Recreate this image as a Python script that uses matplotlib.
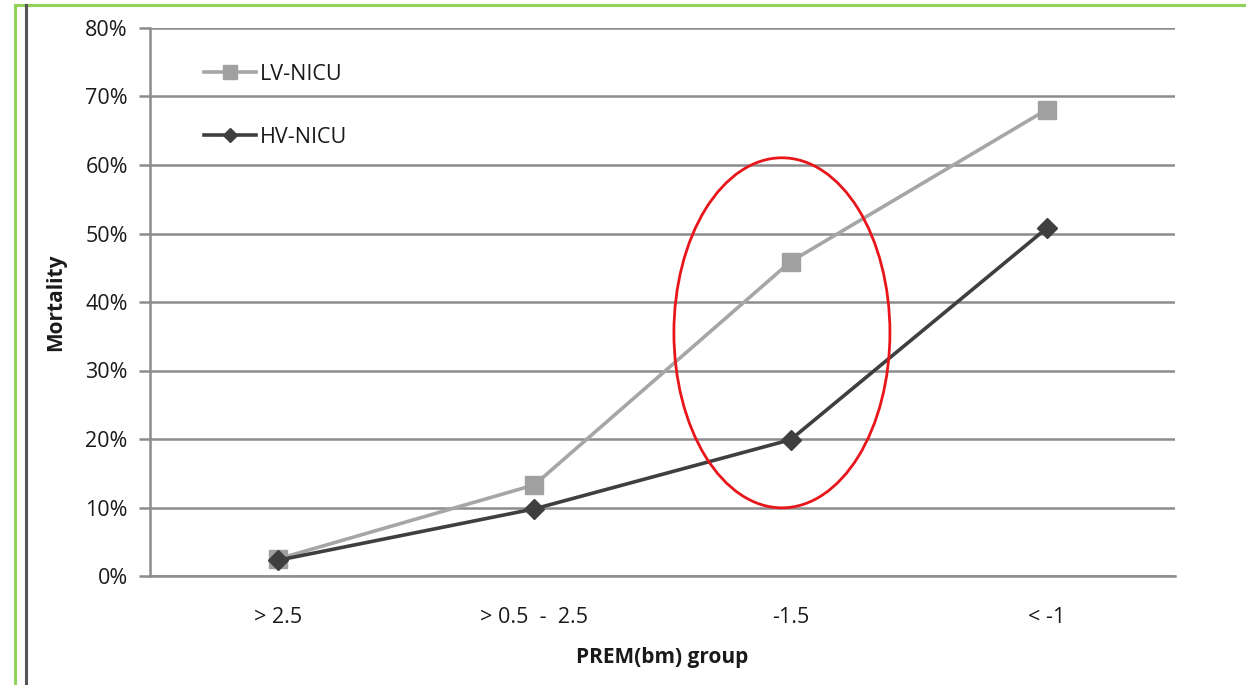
import matplotlib
matplotlib.use("Agg")
import matplotlib.pyplot as plt
from matplotlib.patches import Ellipse
from matplotlib.lines import Line2D

categories = ["> 2.5", "> 0.5  -  2.5", "-1.5", "< -1"]
lv_nicu = [2.5, 13.3, 45.9, 68.1]
hv_nicu = [2.3, 9.8, 19.9, 50.8]
yticks = [0, 10, 20, 30, 40, 50, 60, 70, 80]

plt.rcParams['font.family'] = ['Open Sans', 'DejaVu Sans']

W, H = 1246, 685
fig = plt.figure(figsize=(W / 100, H / 100), dpi=100)
ax = fig.add_axes([150 / W, 1 - 576 / H, 1025 / W, (576 - 28) / H])

x = list(range(len(categories)))
ax.plot(x, lv_nicu, color="#a6a6a6", lw=2.6, marker="s", ms=13,
        mfc="#a0a0a0", mec="#a0a0a0", label="LV-NICU", zorder=3)
ax.plot(x, hv_nicu, color="#3f3f3f", lw=2.6, marker="D", ms=10,
        mfc="#3f3f3f", mec="#3f3f3f", label="HV-NICU", zorder=4)

ax.set_xlim(-0.5, 3.5)
ax.set_ylim(0, 80)
ax.set_yticks(yticks)
ax.set_yticklabels([f"{v}%" for v in yticks])
ax.set_xticks(x)
ax.set_xticklabels(categories)
ax.grid(axis="y", color="#8c8c8c", lw=1.8)
ax.set_axisbelow(True)
for s in ["top", "right"]:
    ax.spines[s].set_visible(False)
for s in ["left", "bottom"]:
    ax.spines[s].set_color("#8c8c8c")
    ax.spines[s].set_linewidth(1.8)
ax.tick_params(axis="y", length=8, width=1.8, color="#8c8c8c",
               labelsize=15.5, labelcolor="#1a1a1a", pad=8)
ax.tick_params(axis="x", length=0, labelsize=15.5, labelcolor="#1a1a1a", pad=22)
ax.set_ylabel("Mortality", fontsize=15, fontweight="bold", color="#1a1a1a", labelpad=14)
ax.set_xlabel("PREM(bm) group", fontsize=15, fontweight="bold", color="#1a1a1a", labelpad=14)

leg = ax.legend(loc="upper left", bbox_to_anchor=(0.034, 0.97), frameon=False,
                fontsize=15.5, labelspacing=1.95, handlelength=2.4, handletextpad=0.2,
                markerscale=0.75, labelcolor="#1a1a1a")

ell = Ellipse((1.966, 35.5), 0.843, 51.1, fill=False, edgecolor="#e8161b", lw=2.0, zorder=5)
ax.add_patch(ell)

# frame lines of the page
fig.add_artist(Line2D([15 / W, 1], [1 - 5 / H, 1 - 5 / H], color="#8fd35a", lw=2.2))
fig.add_artist(Line2D([15 / W, 15 / W], [0, 1 - 5 / H], color="#8fd35a", lw=2.2))
fig.add_artist(Line2D([26 / W, 26 / W], [0, 1 - 5 / H], color="#555555", lw=2.2))

fig.savefig("out.png", dpi=100)
